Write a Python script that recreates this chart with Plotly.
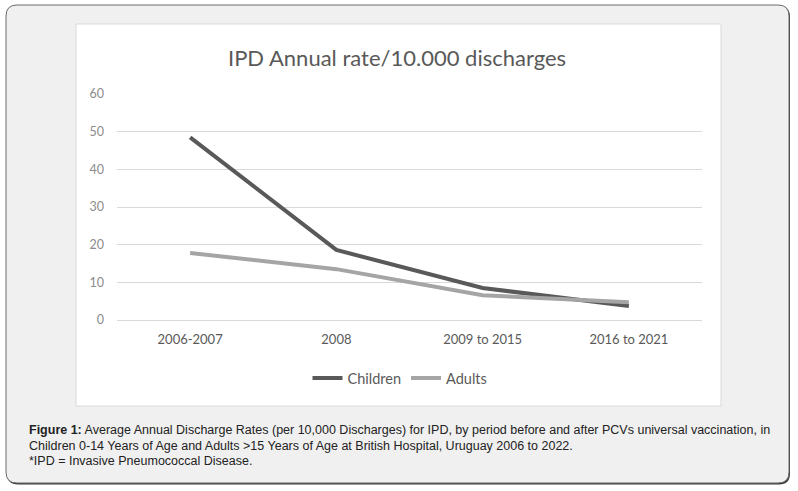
import plotly.graph_objects as go

categories = ["2006-2007", "2008", "2009 to 2015", "2016 to 2021"]
children = [48.5, 18.6, 8.5, 3.7]
adults = [17.8, 13.5, 6.6, 4.7]
y_ticks = [0, 10, 20, 30, 40, 50, 60]

W, H = 798, 491
L, R, T, B = 117, 702, 94, 320


def px(x):
    return (x - L) / (R - L)


def py(y):
    return (B - y) / (B - T)


def rounded_path(x0, y0, x1, y1, r):
    X0, X1 = px(x0), px(x1)
    Y0, Y1 = py(y0), py(y1)
    rx = r / (R - L)
    ry = r / (B - T)
    return (f"M {X0+rx},{Y0} L {X1-rx},{Y0} Q {X1},{Y0} {X1},{Y0-ry} "
            f"L {X1},{Y1+ry} Q {X1},{Y1} {X1-rx},{Y1} "
            f"L {X0+rx},{Y1} Q {X0},{Y1} {X0},{Y1+ry} "
            f"L {X0},{Y0-ry} Q {X0},{Y0} {X0+rx},{Y0} Z")


fig = go.Figure()
fig.add_trace(go.Scatter(x=categories, y=children, name="Children", mode="lines",
                         line=dict(color="#595959", width=4)))
fig.add_trace(go.Scatter(x=categories, y=adults, name="Adults", mode="lines",
                         line=dict(color="#a5a5a5", width=4)))

shapes = [
    dict(type="path", xref="paper", yref="paper", path=rounded_path(7, 6, 790, 484.5, 11),
         fillcolor="#3a3a3a", line=dict(width=0), layer="below"),
    dict(type="path", xref="paper", yref="paper", path=rounded_path(6, 5, 789, 483, 11),
         fillcolor="#f0f0f0", line=dict(color="#6a6a6a", width=1), layer="below"),
    dict(type="rect", xref="paper", yref="paper", x0=px(76), x1=px(721), y0=py(24), y1=py(406),
         fillcolor="#ffffff", line=dict(color="#d9d9d9", width=1), layer="below"),
]

cap_font = dict(family="Liberation Sans, Arial", size=12.5, color="#222222")
annotations = [
    dict(text="IPD Annual rate/10.000 discharges", x=px(397), y=py(57), xref="paper", yref="paper",
         showarrow=False, xanchor="center", yanchor="middle",
         font=dict(family="Lato", size=22, color="#595959")),
    dict(text="<b>Figure 1:</b> Average Annual Discharge Rates (per 10,000 Discharges) for IPD, by period before and after PCVs universal vaccination, in",
         x=px(27), y=py(430), xref="paper", yref="paper", showarrow=False, xanchor="left", yanchor="middle", font=cap_font),
    dict(text="Children 0-14 Years of Age and Adults >15 Years of Age at British Hospital, Uruguay 2006 to 2022.",
         x=px(27), y=py(446), xref="paper", yref="paper", showarrow=False, xanchor="left", yanchor="middle", font=cap_font),
    dict(text="*IPD = Invasive Pneumococcal Disease.",
         x=px(27), y=py(461), xref="paper", yref="paper", showarrow=False, xanchor="left", yanchor="middle", font=cap_font),
]

fig.update_layout(
    width=W, height=H,
    margin=dict(l=L, r=W - R, t=T, b=H - B, pad=0),
    paper_bgcolor="#ffffff", plot_bgcolor="rgba(0,0,0,0)",
    shapes=shapes, annotations=annotations,
    showlegend=True,
    legend=dict(orientation="h", x=px(400), y=py(378), xanchor="center", yanchor="middle",
                font=dict(family="Lato", size=14.5, color="#595959"), bgcolor="rgba(0,0,0,0)",
                itemwidth=30, tracegroupgap=0),
    font=dict(family="Lato"),
)
fig.update_xaxes(type="category", showgrid=False, showline=False, zeroline=False, ticks="",
                 tickfont=dict(family="Lato", size=13, color="#595959"), ticklabelstandoff=10,
                 range=[-0.5, 3.5])
fig.update_yaxes(range=[0, 60], tickvals=y_ticks, showgrid=True, gridcolor="#d9d9d9", gridwidth=1,
                 zeroline=True, zerolinecolor="#d9d9d9", zerolinewidth=1, showline=False, ticks="",
                 tickfont=dict(family="Lato", size=12.5, color="#8c8c8c"), ticklabelstandoff=12)

fig.write_html("out.html", config={"displayModeBar": False},
               post_script="document.body.style.margin='0';document.body.style.overflow='hidden';")
